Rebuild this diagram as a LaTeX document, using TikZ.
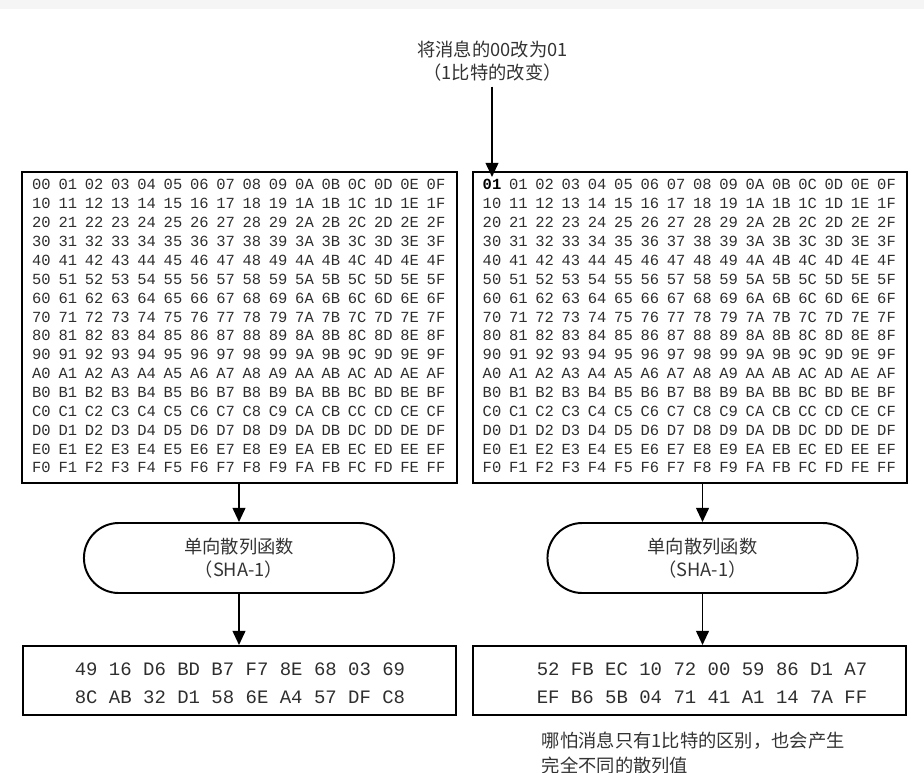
\documentclass[tikz,border=0pt]{standalone}
\usepackage{fontspec}
\setmainfont{Noto Sans CJK SC}
\setmonofont{Liberation Mono}
\usetikzlibrary{arrows.meta, positioning}
\definecolor{hxink}{HTML}{2E2E2E}
\definecolor{txink}{HTML}{333333}
\newcommand{\hexd}[1]{\ifcase#1 0\or 1\or 2\or 3\or 4\or 5\or 6\or 7\or 8\or 9\or A\or B\or C\or D\or E\or F\fi}

\begin{document}
\begin{tikzpicture}[
      x=0.025cm, y=-0.025cm,
      font=\fontsize{13}{16.5}\selectfont,
      hexbox/.style={draw, line width=1.4pt, minimum width=10.86cm,
                     minimum height=7.775cm, inner sep=0pt},
      cell/.style={font=\ttfamily\fontsize{11}{11}\selectfont, text=hxink,
                   inner sep=0pt, text height=7pt, text depth=0pt},
      fnbox/.style={draw, line width=1.4pt, rounded corners=0.87cm, minimum width=7.75cm,
                    minimum height=1.75cm, align=center, text=txink},
      outbox/.style={draw, line width=1.4pt, minimum width=10.83cm, minimum height=1.725cm},
      hash/.style={font=\ttfamily\fontsize{13.5}{19.8}\selectfont, text=hxink, align=center},
      ar/.style={-{Triangle[length=10pt,width=9pt]}, line width=1.4pt},
    ]
    \useasboundingbox (0,0) rectangle (924,773);
    \fill[black!4] (0,0) rectangle (924,9);

    \node[text=txink, align=center] (msg) at (492.5,61.5) {将消息的00改为01\\（1比特的改变）};

    % message blocks
    \node[hexbox] (gridL) at (239.5,327.5) {};
    \node[hexbox] (gridR) at (690,327.5) {};
    \foreach \r in {0,...,15}
      \foreach \c in {0,...,15} {
        \node[cell] (gL-\r-\c) at ({41.5+\c*26.3},{185+\r*18.87}) {\hexd{\r}\hexd{\c}};
        \node[cell] (gR-\r-\c) at ({492+\c*26.3},{185+\r*18.87})
          {\ifnum\numexpr\r*16+\c\relax=0 \bfseries\color{black}01\else\hexd{\r}\hexd{\c}\fi};
      }

    % hash functions
    \node[fnbox] (fnL) at (239,558) {单向散列函数\\（SHA-1）};
    \node[fnbox] (fnR) at (702.5,558) {单向散列函数\\（SHA-1）};

    % digests
    \node[outbox] (outL) at (239.5,680.5) {};
    \node[outbox] (outR) at (689.5,680.5) {};
    \node[hash] (hashL) at (240,683) {49 16 D6 BD B7 F7 8E 68 03 69\\8C AB 32 D1 58 6E A4 57 DF C8};
    \node[hash] (hashR) at (702,683) {52 FB EC 10 72 00 59 86 D1 A7\\EF B6 5B 04 71 41 A1 14 7A FF};

    \node[text=txink, anchor=north west, align=left,
          font=\fontsize{13}{17.7}\selectfont] (note) at (537,727)
      {哪怕消息只有1比特的区别，也会产生\\完全不同的散列值};

    \draw[ar] (msg.south -| gR-0-0) -- ([yshift=2pt]gR-0-0.north);
    \draw[ar] (fnL |- gridL.south) -- (fnL.north);
    \draw[ar] (fnL.south) -- (fnL |- outL.north);
    \draw[ar] (fnR |- gridR.south) -- (fnR.north);
    \draw[ar] (fnR.south) -- (fnR |- outR.north);
  \end{tikzpicture}
\end{document}
